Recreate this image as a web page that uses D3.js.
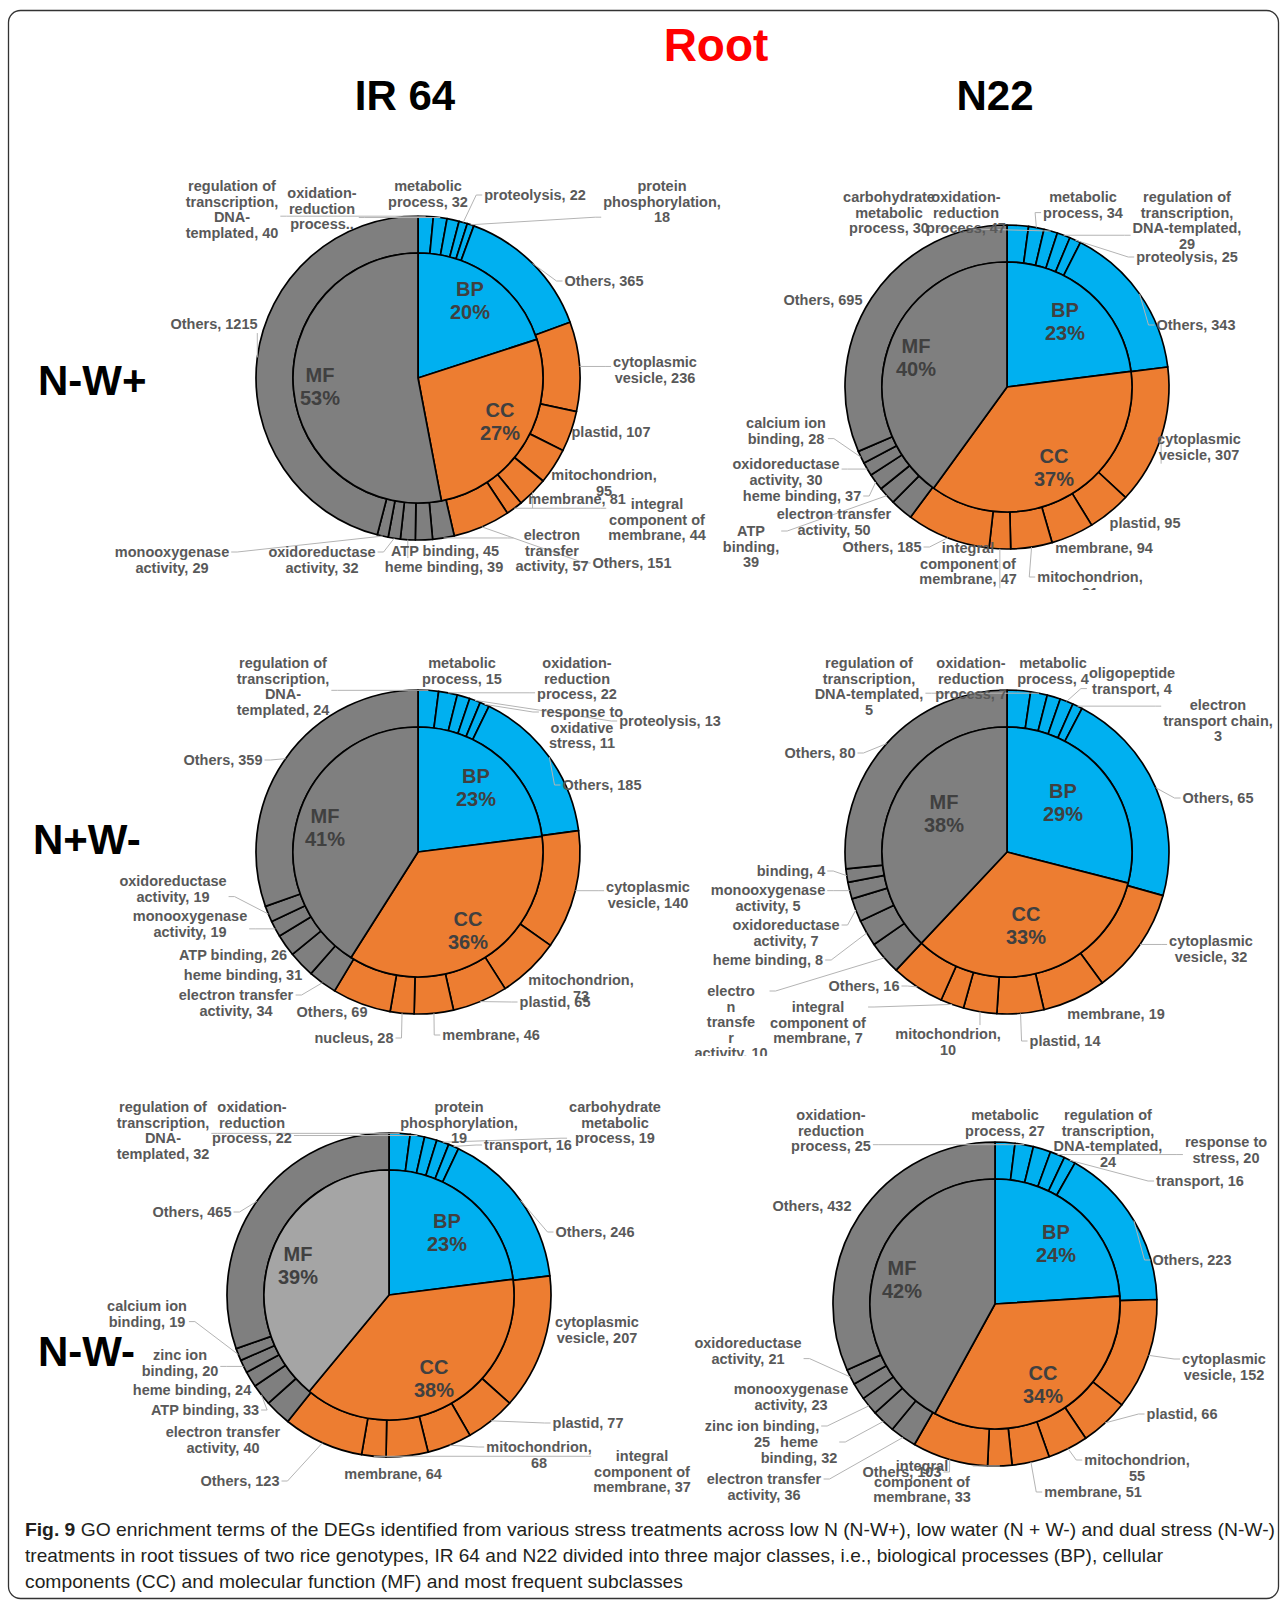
<!DOCTYPE html>
<html><head><meta charset="utf-8">
<script src="https://cdn.jsdelivr.net/npm/d3@7/dist/d3.min.js"></script>
<style>
html,body{margin:0;padding:0;background:#fff;}
svg{display:block;}
</style></head><body>
<svg id="fig" width="1287" height="1602"></svg>
<script>
// ---- categories and headings ----
const classNames = ["BP", "CC", "MF"];
const genotypes = ["IR 64", "N22"];
const treatments = ["N-W+", "N+W-", "N-W-"];
const tissue = "Root";

// Term labels use "|" as a line break; "#" marks where the count is written
// (otherwise ", count" is appended; a term ending in ".." is shown as is).

// IR 64, N-W+
const ir64_nwp_bp = [["regulation of|transcription,|DNA-|templated", 40], ["oxidation-|reduction|process..", 36], ["metabolic|process", 32], ["proteolysis", 22], ["protein|phosphorylation,|#", 18], ["Others", 365]];
const ir64_nwp_cc = [["cytoplasmic|vesicle", 236], ["plastid", 107], ["mitochondrion,|#", 95], ["membrane", 81], ["integral|component of|membrane", 44], ["Others", 151]];
const ir64_nwp_mf = [["electron|transfer|activity", 57], ["ATP binding", 45], ["heme binding", 39], ["oxidoreductase|activity", 32], ["monooxygenase|activity", 29], ["Others", 1215]];
const ir64_nwp_pct = [20, 27, 53];

// N22, N-W+
const n22_nwp_bp = [["oxidation-|reduction|process", 47], ["metabolic|process", 34], ["carbohydrate|metabolic|process", 30], ["regulation of|transcription,|DNA-templated,|#", 29], ["proteolysis", 25], ["Others", 343]];
const n22_nwp_cc = [["cytoplasmic|vesicle", 307], ["plastid", 95], ["membrane", 94], ["mitochondrion,|#", 91], ["integral|component of|membrane", 47], ["Others", 185]];
const n22_nwp_mf = [["electron transfer|activity", 50], ["ATP|binding,|#", 39], ["heme binding", 37], ["oxidoreductase|activity", 30], ["calcium ion|binding", 28], ["Others", 695]];
const n22_nwp_pct = [23, 37, 40];

// IR 64, N+W-
const ir64_npw_bp = [["regulation of|transcription,|DNA-|templated", 24], ["oxidation-|reduction|process", 22], ["metabolic|process", 15], ["proteolysis", 13], ["response to|oxidative|stress", 11], ["Others", 185]];
const ir64_npw_cc = [["cytoplasmic|vesicle", 140], ["mitochondrion,|#", 73], ["plastid", 65], ["membrane", 46], ["nucleus", 28], ["Others", 69]];
const ir64_npw_mf = [["electron transfer|activity", 34], ["heme binding", 31], ["ATP binding", 26], ["monooxygenase|activity", 19], ["oxidoreductase|activity", 19], ["Others", 359]];
const ir64_npw_pct = [23, 36, 41];

// N22, N+W-
const n22_npw_bp = [["oxidation-|reduction|process", 7], ["regulation of|transcription,|DNA-templated,|#", 5], ["metabolic|process", 4], ["oligopeptide|transport", 4], ["electron|transport chain,|#", 3], ["Others", 65]];
const n22_npw_cc = [["cytoplasmic|vesicle", 32], ["membrane", 19], ["plastid", 14], ["mitochondrion,|#", 10], ["integral|component of|membrane", 7], ["Others", 16]];
const n22_npw_mf = [["electro|n|transfe|r|activity", 10], ["heme binding", 8], ["oxidoreductase|activity", 7], ["monooxygenase|activity", 5], ["binding", 4], ["Others", 80]];
const n22_npw_pct = [29, 33, 38];

// IR 64, N-W-
const ir64_nwm_bp = [["regulation of|transcription,|DNA-|templated", 32], ["oxidation-|reduction|process", 22], ["protein|phosphorylation,|#", 19], ["carbohydrate|metabolic|process", 19], ["transport", 16], ["Others", 246]];
const ir64_nwm_cc = [["cytoplasmic|vesicle", 207], ["plastid", 77], ["mitochondrion,|#", 68], ["membrane", 64], ["integral|component of|membrane", 37], ["Others", 123]];
const ir64_nwm_mf = [["electron transfer|activity", 40], ["ATP binding", 33], ["heme binding", 24], ["zinc ion|binding", 20], ["calcium ion|binding", 19], ["Others", 465]];
const ir64_nwm_pct = [23, 38, 39];

// N22, N-W-
const n22_nwm_bp = [["metabolic|process", 27], ["oxidation-|reduction|process", 25], ["regulation of|transcription,|DNA-templated,|#", 24], ["response to|stress", 20], ["transport", 16], ["Others", 223]];
const n22_nwm_cc = [["cytoplasmic|vesicle", 152], ["plastid", 66], ["mitochondrion,|#", 55], ["membrane", 51], ["integral|component of|membrane", 33], ["Others", 103]];
const n22_nwm_mf = [["electron transfer|activity", 36], ["heme|binding, #", 32], ["zinc ion binding,|#", 25], ["monooxygenase|activity", 23], ["oxidoreductase|activity", 21], ["Others", 432]];
const n22_nwm_pct = [24, 34, 42];

const captionLines = [
  [["Fig. 9", true], [" GO enrichment terms of the DEGs identified from various stress treatments across low N (N-W+), low water (N + W-) and dual stress (N-W-)", false]],
  [["treatments in root tissues of two rice genotypes, IR 64 and N22 divided into three major classes, i.e., biological processes (BP), cellular", false]],
  [["components (CC) and molecular function (MF) and most frequent subclasses", false]]
];

// ---- panels (data) ----
const panels = [
  {g: 0, t: 0, sets: [ir64_nwp_bp, ir64_nwp_cc, ir64_nwp_mf], pct: ir64_nwp_pct},
  {g: 1, t: 0, sets: [n22_nwp_bp, n22_nwp_cc, n22_nwp_mf], pct: n22_nwp_pct},
  {g: 0, t: 1, sets: [ir64_npw_bp, ir64_npw_cc, ir64_npw_mf], pct: ir64_npw_pct},
  {g: 1, t: 1, sets: [n22_npw_bp, n22_npw_cc, n22_npw_mf], pct: n22_npw_pct},
  {g: 0, t: 2, sets: [ir64_nwm_bp, ir64_nwm_cc, ir64_nwm_mf], pct: ir64_nwm_pct},
  {g: 1, t: 2, sets: [n22_nwm_bp, n22_nwm_cc, n22_nwm_mf], pct: n22_nwm_pct}
];

// ---- layout: panel centres, bottom crop, class-label and subclass-label placements (offsets from centre) ----
const panelLayout = [
  {cx: 418, cy: 378, clip: null, mfInner: "#7f7f7f",
   classPos: [[52, -78], [82, 43], [-98, 8]],
   labels: [
    [-186, -192], [-96, -185], [10, -192], [117, -183], [244, -192], [186, -97],
    [237, -16], [193, 54], [186, 97], [159, 121], [239, 126], [214, 185],
    [134, 157], [27, 173], [26, 189], [-96, 174], [-246, 174], [-204, -54]]},
  {cx: 1007, cy: 387, clip: 203, mfInner: "#7f7f7f",
   classPos: [[58, -66], [47, 80], [-91, -30]],
   labels: [
    [-41, -190], [76, -190], [-118, -190], [180, -190], [180, -130], [189, -62],
    [192, 52], [138, 136], [97, 161], [83, 190], [-39, 161], [-125, 160],
    [-173, 127], [-256, 144], [-205, 109], [-221, 77], [-221, 36], [-184, -87]]},
  {cx: 418, cy: 852, clip: null, mfInner: "#7f7f7f",
   classPos: [[58, -65], [50, 78], [-93, -25]],
   labels: [
    [-135, -189], [159, -189], [44, -189], [252, -131], [164, -140], [184, -67],
    [230, 35], [163, 128], [137, 150], [73, 183], [-64, 186], [-86, 160],
    [-182, 143], [-175, 123], [-185, 103], [-228, 64], [-245, 29], [-195, -92]]},
  {cx: 1007, cy: 852, clip: 204, mfInner: "#7f7f7f",
   classPos: [[56, -50], [19, 73], [-63, -39]],
   labels: [
    [-36, -189], [-138, -189], [46, -189], [125, -179], [211, -147], [211, -54],
    [204, 89], [109, 162], [58, 189], [-59, 182], [-189, 155], [-143, 134],
    [-276, 139], [-239, 108], [-221, 73], [-239, 38], [-216, 19], [-187, -99]]},
  {cx: 389, cy: 1295, clip: null, mfInner: "#a5a5a5",
   classPos: [[58, -63], [45, 83], [-91, -30]],
   labels: [
    [-226, -188], [-137, -188], [70, -188], [226, -188], [139, -150], [206, -63],
    [208, 27], [199, 128], [150, 152], [4, 179], [253, 161], [-149, 186],
    [-166, 137], [-184, 115], [-197, 95], [-209, 60], [-242, 11], [-197, -83]]},
  {cx: 995, cy: 1304, clip: null, mfInner: "#7f7f7f",
   classPos: [[61, -61], [48, 80], [-93, -25]],
   labels: [
    [10, -189], [-164, -189], [113, -189], [231, -162], [205, -123], [197, -44],
    [229, 55], [187, 110], [142, 156], [98, 188], [-73, 162], [-93, 168],
    [-231, 175], [-196, 138], [-233, 122], [-204, 85], [-247, 39], [-183, -98]]}
];

const R = 162, r0 = 125;
const LH = 15.6;
const classColor = {BP: "#00b0f0", CC: "#ed7d31", MF: "#7f7f7f"};
const labelFont = "'Liberation Sans Narrow', 'Arial Narrow', 'Liberation Sans', Arial, sans-serif";
const headFont = "'Liberation Sans', Arial, sans-serif";

const svg = d3.select("#fig");

// frame
svg.append("rect").attr("x", 8.5).attr("y", 10.5).attr("width", 1270).attr("height", 1588)
  .attr("rx", 12).attr("fill", "none").attr("stroke", "#333").attr("stroke-width", 1.3);

// headings
svg.append("text").attr("x", 716).attr("y", 61).attr("text-anchor", "middle")
  .attr("font-family", headFont).attr("font-weight", "bold").attr("font-size", 46)
  .attr("fill", "#ff0000").text(tissue);
const colX = [405, 995];
genotypes.forEach((gname, i) => {
  svg.append("text").attr("x", colX[i]).attr("y", 110).attr("text-anchor", "middle")
    .attr("font-family", headFont).attr("font-weight", "bold").attr("font-size", 42)
    .attr("fill", "#000").text(gname);
});
const rowPos = [[38, 395], [33, 854], [38, 1366]];
treatments.forEach((tname, i) => {
  svg.append("text").attr("x", rowPos[i][0]).attr("y", rowPos[i][1])
    .attr("font-family", headFont).attr("font-weight", "bold").attr("font-size", 42)
    .attr("fill", "#000").text(tname);
});

const pie = d3.pie().sort(null).value(d => d.value);
const arcOuter = d3.arc().innerRadius(r0).outerRadius(R);
const arcInner = d3.arc().innerRadius(0).outerRadius(r0);

function labelText(term, v) {
  if (term.includes("#")) return term.replace("#", v);
  if (term.endsWith("..")) return term;
  return term + ", " + v;
}

panels.forEach((p, i) => {
  const L = panelLayout[i];
  const g = svg.append("g").attr("transform", `translate(${L.cx},${L.cy})`);
  if (L.clip) {
    const id = "crop" + i;
    svg.append("clipPath").attr("id", id).append("rect")
      .attr("x", -420).attr("y", -270).attr("width", 840).attr("height", 270 + L.clip);
    g.attr("clip-path", `url(#${id})`);
  }

  const slices = [];
  classNames.forEach((c, ci) => p.sets[ci].forEach(([term, v]) => slices.push({cls: c, term, value: v})));
  const outer = pie(slices);
  const inner = pie(classNames.map((c, ci) => ({cls: c, value: p.pct[ci]})));

  g.selectAll("path.outer").data(outer).join("path").attr("class", "outer")
    .attr("d", arcOuter).attr("fill", d => classColor[d.data.cls])
    .attr("stroke", "#000").attr("stroke-width", 1.7).attr("stroke-linejoin", "round");
  g.selectAll("path.inner").data(inner).join("path").attr("class", "inner")
    .attr("d", arcInner).attr("fill", d => d.data.cls === "MF" ? L.mfInner : classColor[d.data.cls])
    .attr("stroke", "#000").attr("stroke-width", 1.7).attr("stroke-linejoin", "round");

  // class labels inside the inner pie
  inner.forEach((d, ci) => {
    const [x, y] = L.classPos[ci];
    const t = g.append("text").attr("text-anchor", "middle").attr("font-family", headFont)
      .attr("font-weight", "bold").attr("font-size", 20).attr("fill", "#404040");
    t.append("tspan").attr("x", x).attr("y", y - 11.5).attr("dy", "0.35em").text(d.data.cls);
    t.append("tspan").attr("x", x).attr("y", y + 11.5).attr("dy", "0.35em").text(d.data.value + "%");
  });

  // subclass labels with leader lines
  const leaderG = g.append("g");
  const textG = g.append("g");
  outer.forEach((d, k) => {
    const [lx, ly] = L.labels[k];
    const lines = labelText(d.data.term, d.data.value).split("|");
    const t = textG.append("text").attr("text-anchor", "middle").attr("font-family", labelFont)
      .attr("font-weight", "bold").attr("font-size", 14.5).attr("fill", "#595959");
    lines.forEach((ln, j) => t.append("tspan").attr("x", lx).attr("y", ly + j * LH).attr("dy", "0.35em").text(ln));
    const bb = t.node().getBBox();
    const a = (d.startAngle + d.endAngle) / 2;
    const px = R * Math.sin(a), py = -R * Math.cos(a);
    const yFirst = ly, yLast = ly + (lines.length - 1) * LH;
    let pts;
    if (px < bb.x - 2) {
      const ay = Math.max(yFirst, Math.min(yLast, py));
      const ax = bb.x - 2;
      pts = [[px, py], [ax - 6, ay], [ax, ay]];
    } else if (px > bb.x + bb.width + 2) {
      const ay = Math.max(yFirst, Math.min(yLast, py));
      const ax = bb.x + bb.width + 2;
      pts = [[px, py], [ax + 6, ay], [ax, ay]];
    } else {
      const ax = Math.max(bb.x, Math.min(bb.x + bb.width, px));
      const ay = py < bb.y ? bb.y - 1 : bb.y + bb.height + 1;
      pts = [[px, py], [ax, ay]];
    }
    const end = pts[pts.length - 1];
    if (Math.hypot(end[0] - px, end[1] - py) > 12) {
      leaderG.append("path").attr("d", d3.line()(pts)).attr("fill", "none")
        .attr("stroke", "#b4b4b4").attr("stroke-width", 1);
    }
  });
});

// caption
const capY = [1536, 1562, 1588];
const capLen = [1250, 1138, 658];
captionLines.forEach((parts, i) => {
  const t = svg.append("text").attr("x", 25).attr("y", capY[i])
    .attr("font-family", labelFont).attr("font-size", 19).attr("fill", "#231f20")
    .attr("textLength", capLen[i]).attr("lengthAdjust", "spacingAndGlyphs");
  parts.forEach(([s, b]) => t.append("tspan").attr("font-weight", b ? "bold" : "normal").text(s));
});
</script>
</body></html>
